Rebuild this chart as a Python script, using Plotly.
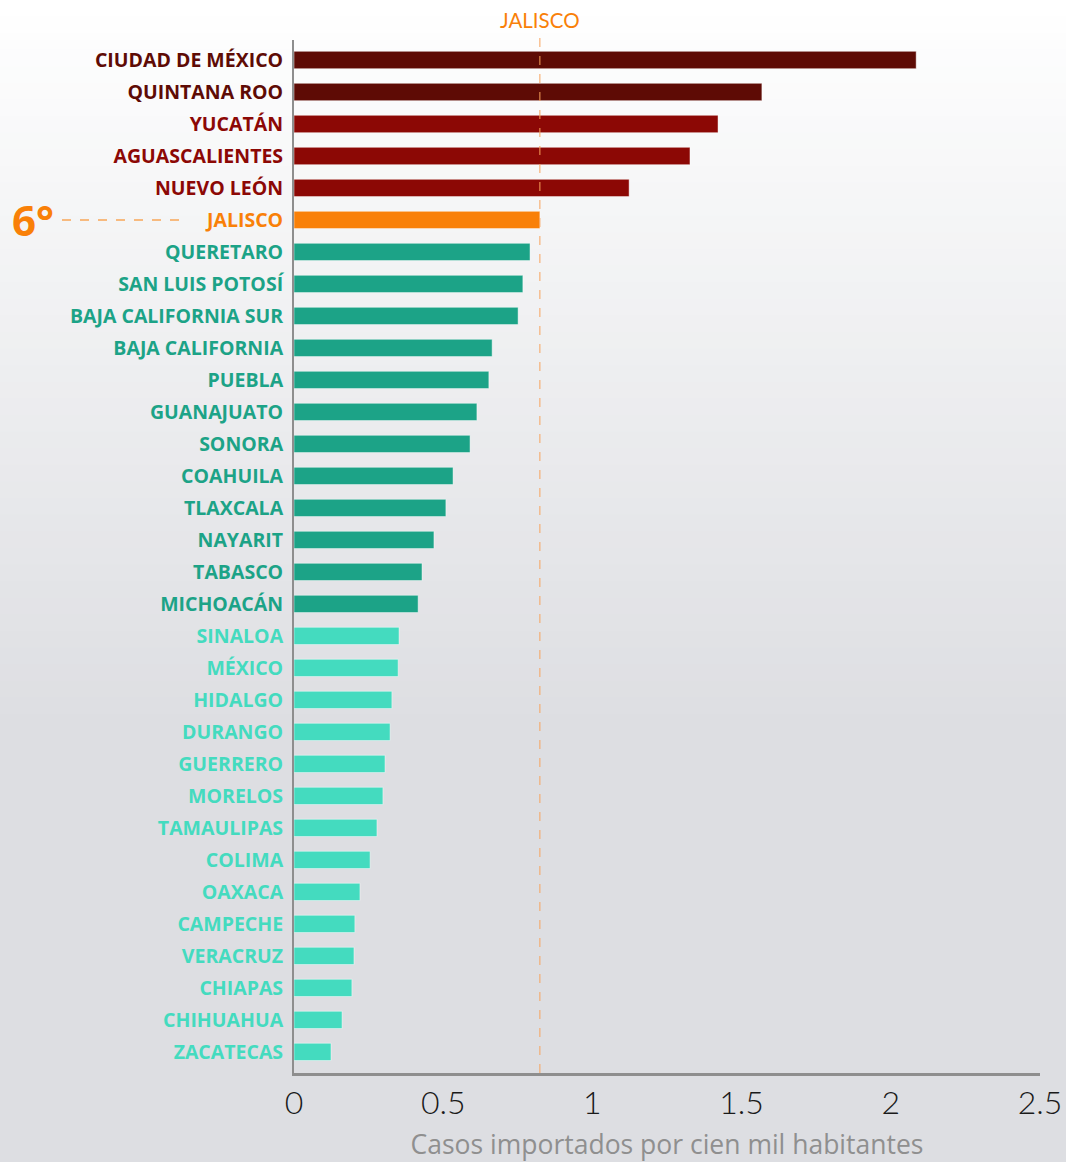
import plotly.graph_objects as go

states = ["CIUDAD DE MÉXICO", "QUINTANA ROO", "YUCATÁN", "AGUASCALIENTES", "NUEVO LEÓN",
          "JALISCO", "QUERETARO", "SAN LUIS POTOSÍ", "BAJA CALIFORNIA SUR", "BAJA CALIFORNIA",
          "PUEBLA", "GUANAJUATO", "SONORA", "COAHUILA", "TLAXCALA", "NAYARIT", "TABASCO",
          "MICHOACÁN", "SINALOA", "MÉXICO", "HIDALGO", "DURANGO", "GUERRERO", "MORELOS",
          "TAMAULIPAS", "COLIMA", "OAXACA", "CAMPECHE", "VERACRUZ", "CHIAPAS", "CHIHUAHUA",
          "ZACATECAS"]
values = [2.085, 1.568, 1.421, 1.327, 1.123, 0.824, 0.791, 0.767, 0.751, 0.664,
          0.653, 0.613, 0.590, 0.533, 0.509, 0.469, 0.429, 0.416, 0.352, 0.349,
          0.328, 0.322, 0.305, 0.298, 0.278, 0.255, 0.221, 0.204, 0.201, 0.194,
          0.161, 0.124]
groups = ["top"] * 2 + ["high"] * 3 + ["jal"] + ["mid"] * 12 + ["low"] * 14
group_colors = {"top": "#5e0b05", "high": "#8c0805", "jal": "#f98008",
                "mid": "#1ca387", "low": "#44dbbf"}
x_ticks = [0, 0.5, 1, 1.5, 2, 2.5]
x_title = "Casos importados por cien mil habitantes"
jalisco_value = values[states.index("JALISCO")]
rank_label = "6°"

colors = [group_colors[g] for g in groups]
idx = list(range(len(states)))
ticktext = [f"<span style='color:{c}'><b>{s}</b></span>" for s, c in zip(states, colors)]

fig = go.Figure()
fig.add_trace(go.Bar(
    x=values, y=idx, orientation="h", width=0.54,
    marker=dict(color=colors, line=dict(color="rgba(255,255,255,0.45)", width=1)),
    hoverinfo="x+y", showlegend=False,
))

W, H = 1066, 1162
L, R, T, B = 294, 26, 40, 89
pw, ph = W - L - R, H - T - B

top_rgb = (255, 255, 255)
bot_rgb = (221, 222, 226)


def bg_at(page_y):
    t = min(1.0, max(0.0, page_y / H) * 1.6)
    return tuple(round(top_rgb[k] + (bot_rgb[k] - top_rgb[k]) * t) for k in range(3))


# background gradient
n = 70
shapes = []
x0p, x1p = -L / pw, (W - L) / pw
for i in range(n):
    fy0 = i * H / n
    fy1 = (i + 1) * H / n + 1
    c = bg_at((fy0 + fy1) / 2)
    yt = (H - B - fy0) / ph
    yb = (H - B - fy1) / ph
    shapes.append(dict(type="rect", xref="paper", yref="paper", x0=x0p, x1=x1p,
                       y0=yb, y1=yt, fillcolor="rgb(%d,%d,%d)" % c,
                       line=dict(width=0), layer="below"))

# Jalisco reference line
shapes.append(dict(type="line", xref="x", yref="paper", x0=jalisco_value, x1=jalisco_value,
                   y0=0, y1=1.005, line=dict(color="#f7a35c", width=1, dash="dash")))
# rank leader line
shapes.append(dict(type="line", xref="paper", yref="y", x0=(62 - L) / pw, x1=(183 - L) / pw,
                   y0=5, y1=5, line=dict(color="#f98008", width=1.2, dash="dash")))

annotations = [
    dict(text="JALISCO", x=jalisco_value, xref="x", y=(H - B - 20) / ph, yref="paper",
         showarrow=False, font=dict(family="Lato, Open Sans, sans-serif", size=20.5, color="#f98008"),
         xanchor="center", yanchor="middle"),
    dict(text="<b>" + rank_label + "</b>", x=(10 - L) / pw, xref="paper", y=5, yref="y",
         showarrow=False, font=dict(family="Open Sans, sans-serif", size=42, color="#f98008"),
         xanchor="left", yanchor="middle"),
]

fig.update_layout(
    width=W, height=H, autosize=False,
    margin=dict(l=L, r=R, t=T, b=B, pad=0),
    paper_bgcolor="#dddee2", plot_bgcolor="rgba(0,0,0,0)",
    shapes=shapes, annotations=annotations,
    bargap=0.4,
)
fig.update_xaxes(
    range=[0, 2.5], tickvals=x_ticks, ticktext=[str(v) for v in x_ticks],
    automargin=False,
    showgrid=False, zeroline=False, showline=True, linecolor="#8e8e8e", linewidth=3,
    ticks="", tickfont=dict(family="Lato, sans-serif", size=32, color="#1a1a1a", weight=300),
    title=dict(text=x_title, font=dict(family="Open Sans, sans-serif", size=26.5, color="#8f8f8f"),
               standoff=20),
    fixedrange=True,
)
fig.update_yaxes(
    range=[31.66, -0.625], tickvals=idx, ticktext=ticktext,
    automargin=False,
    showgrid=False, zeroline=False, showline=True, linecolor="#8e8e8e", linewidth=2,
    ticks="", ticklabelstandoff=5,
    tickfont=dict(family="Open Sans, sans-serif", size=19.5),
    fixedrange=True,
)

fig.write_html(
    "out.html",
    config={"displayModeBar": False},
    post_script="document.documentElement.style.margin='0';document.body.style.margin='0';"
                "document.documentElement.style.overflow='hidden';document.body.style.overflow='hidden';"
                "document.documentElement.style.background='#dddee2';",
)
